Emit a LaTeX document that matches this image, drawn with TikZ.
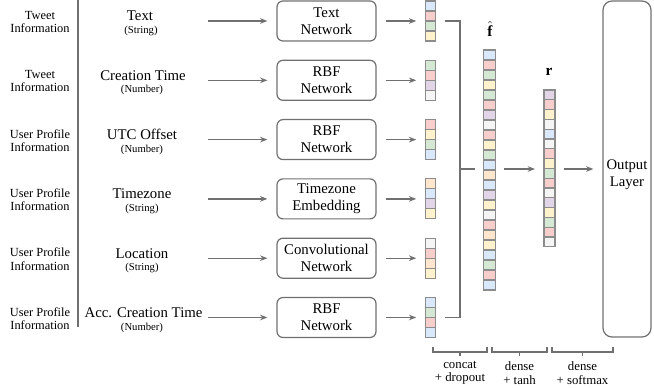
\documentclass[tikz,border=0pt]{standalone}
\usepackage{fontspec}
\setmainfont{Liberation Serif}
\usetikzlibrary{arrows.meta}
\definecolor{lc}{HTML}{707070}
\definecolor{cb}{HTML}{8C8C8C}
\definecolor{cblue}{HTML}{DAE8FC}
\definecolor{cred}{HTML}{F8CECC}
\definecolor{cgreen}{HTML}{D5E8D4}
\definecolor{cyellow}{HTML}{FFF2CC}
\definecolor{cpurple}{HTML}{E1D5E7}
\definecolor{cwhite}{HTML}{F5F5F5}
\definecolor{corange}{HTML}{FFE6CC}
\begin{document}
\begin{tikzpicture}[x=0.75pt,y=-0.75pt,
  conn/.style={draw=lc, line width=1pt, -{Stealth[length=5.5pt,width=4.2pt]}, shorten <=6.75pt, shorten >=6.75pt},
  plain/.style={draw=lc, line width=1pt},
  srclab/.style={align=center, inner sep=0, font=\fontsize{9.3}{10}\selectfont},
  inplab/.style={inner sep=0, font=\fontsize{11.1}{13}\selectfont},
  typelab/.style={inner sep=0, font=\fontsize{8}{9}\selectfont},
  netbox/.style={draw=lc, line width=0.9pt, rounded corners=4.5pt, minimum width=74.25pt, minimum height=30pt, align=center, inner sep=0, font=\fontsize{11.1}{12.75}\selectfont},
  cell/.style={draw=cb, line width=0.8pt, minimum width=7.9pt, minimum height=7.5pt, inner sep=0, outer sep=0},
  fcell/.style={cell, minimum width=8.6pt},
  rcell/.style={cell, minimum width=8.25pt, minimum height=7.35pt},
  ghost/.style={inner sep=0, outer sep=0, draw=none},
  bottomlab/.style={align=center, inner sep=0, font=\fontsize{9.6}{10}\selectfont}
]
\useasboundingbox (0,0) rectangle (654,388);

% left vertical line
\coordinate (lt) at (78,0);
\coordinate (lb) at (78,327);
\draw[plain] (lt) -- (lb);

% source labels
\node[srclab] (src1) at (40,22) {Tweet\\Information};
\node[srclab] (src2) at (40,81.3) {Tweet\\Information};
\node[srclab] (src3) at (40,140.6) {User Profile\\Information};
\node[srclab] (src4) at (40,199.9) {User Profile\\Information};
\node[srclab] (src5) at (40,259.2) {User Profile\\Information};
\node[srclab] (src6) at (40,318.5) {User Profile\\Information};

% input names
\node[inplab] (inp1) at (140,16) {Text};
\node[inplab] (inp2) at (143,75.3) {Creation Time};
\node[inplab] (inp3) at (142,134.6) {UTC Offset};
\node[inplab] (inp4) at (142,193.9) {Timezone};
\node[inplab] (inp5) at (142,253.2) {Location};
\node[inplab] (inp6) at (143.5,312.5) {Acc. Creation Time};
\node[typelab] (typ1) at (141,31) {(String)};
\node[typelab] (typ2) at (142,90.3) {(Number)};
\node[typelab] (typ3) at (142,149.6) {(Number)};
\node[typelab] (typ4) at (142,208.9) {(String)};
\node[typelab] (typ5) at (142,268.2) {(String)};
\node[typelab] (typ6) at (142,327.5) {(Number)};

% networks
\node[netbox] (net1) at (326.5,21) {Text\\Network};
\node[netbox] (net2) at (326.5,80.3) {RBF\\Network};
\node[netbox] (net3) at (326.5,139.6) {RBF\\Network};
\node[netbox] (net4) at (326.5,198.9) {Timezone\\Embedding};
\node[netbox] (net5) at (326.5,258.2) {Convolutional\\Network};
\node[netbox] (net6) at (326.5,317.5) {RBF\\Network};

% arrow starts
\coordinate (a1) at (208,21);
\coordinate (a2) at (208,80.3);
\coordinate (a3) at (208,139.6);
\coordinate (a4) at (208,198.9);
\coordinate (a5) at (208,258.2);
\coordinate (a6) at (208,317.5);

% small vectors
\foreach \c [count=\j] in {cblue,cred,cgreen,cyellow}
  \node[cell, fill=\c] (v1c\j) at (430.5,{6+10*(\j-1)}) {};
\foreach \c [count=\j] in {cgreen,cred,cpurple,cwhite}
  \node[cell, fill=\c] (v2c\j) at (430.5,{65.3+10*(\j-1)}) {};
\foreach \c [count=\j] in {cred,cyellow,cgreen,cblue}
  \node[cell, fill=\c] (v3c\j) at (430.5,{124.6+10*(\j-1)}) {};
\foreach \c [count=\j] in {corange,cblue,cpurple,cyellow}
  \node[cell, fill=\c] (v4c\j) at (430.5,{183.9+10*(\j-1)}) {};
\foreach \c [count=\j] in {cwhite,cred,corange,cyellow}
  \node[cell, fill=\c] (v5c\j) at (430.5,{243.2+10*(\j-1)}) {};
\foreach \c [count=\j] in {cblue,cgreen,cred,cblue}
  \node[cell, fill=\c] (v6c\j) at (430.5,{302.5+10*(\j-1)}) {};

\node[ghost, minimum width=7.9pt, minimum height=30pt] (vec1) at (430.5,21) {};
\node[ghost, minimum width=7.9pt, minimum height=30pt] (vec2) at (430.5,80.3) {};
\node[ghost, minimum width=7.9pt, minimum height=30pt] (vec3) at (430.5,139.6) {};
\node[ghost, minimum width=7.9pt, minimum height=30pt] (vec4) at (430.5,198.9) {};
\node[ghost, minimum width=7.9pt, minimum height=30pt] (vec5) at (430.5,258.2) {};
\node[ghost, minimum width=7.9pt, minimum height=30pt] (vec6) at (430.5,317.5) {};

\foreach \i in {1,...,6} {
  \draw[conn, shorten <=0pt] (a\i) -- (net\i.west);
  \draw[conn] (net\i.east) -- (vec\i.west);
}

% concat join
\coordinate (jt) at (445,21);
\coordinate (jb) at (445,317.5);
\coordinate (jm) at (460,169);
\coordinate (jo) at (475,169);
\draw[plain] (jt) -| (jm) |- (jb);
\draw[plain] (jm) -- (jo);

% f-hat vector
\foreach \c [count=\j] in {cblue,cred,cgreen,cyellow,cgreen,cred,cpurple,cwhite,cred,cyellow,cgreen,cblue,corange,cblue,cpurple,cyellow,cwhite,cred,corange,cyellow,cblue,cgreen,cred,cblue}
  \node[fcell, fill=\c] (f\j) at (489.3,{55+10*(\j-1)}) {};
\node[ghost, minimum width=8.6pt, minimum height=180pt] (fvec) at (489.3,170) {};
\node[inner sep=0, font=\fontsize{11.5}{13}\selectfont] (flab) at (490,28.5) {$\hat{\textbf{f}}$};

% r vector
\foreach \c [count=\j] in {cpurple,cred,cyellow,cwhite,cblue,cwhite,cred,cyellow,cgreen,cred,cwhite,cpurple,cyellow,cgreen,cred,cwhite}
  \node[rcell, fill=\c] (r\j) at (549.5,{94.9+9.8*(\j-1)}) {};
\node[ghost, minimum width=8.25pt, minimum height=117.6pt] (rvec) at (549.5,168.4) {};
\node[inner sep=0, font=\fontsize{11.5}{13}\selectfont] (rlab) at (549,72) {\textbf{r}};

% output layer
\node[draw=lc, line width=0.9pt, rounded corners=6.75pt, minimum width=36pt, minimum height=252pt, inner sep=0] (out) at (627,169) {};
\node[align=center, inner sep=0, font=\fontsize{11}{12.75}\selectfont] (outtxt) at (627,175) {Output\\Layer};

\draw[conn] (fvec.east |- jm) -- (rvec.west |- jm);
\draw[conn] (rvec.east |- jm) -- (out.west |- jm);

% bottom brackets
\foreach \xa/\xb in {433/487, 492/547, 552/613} {
  \draw[draw=lc, line width=0.9pt] (\xa,347) -- (\xa,352) -- (\xb,352) -- (\xb,347);
  \draw[draw=lc, line width=0.9pt] ({(\xa+\xb)/2},352) -- ({(\xa+\xb)/2},356);
}
\node[bottomlab] (lab1) at (460,373) {concat\\+ dropout};
\node[bottomlab] (lab2) at (519.5,373) {dense\\+ tanh};
\node[bottomlab] (lab3) at (582.5,373) {dense\\+ softmax};
\end{tikzpicture}
\end{document}
